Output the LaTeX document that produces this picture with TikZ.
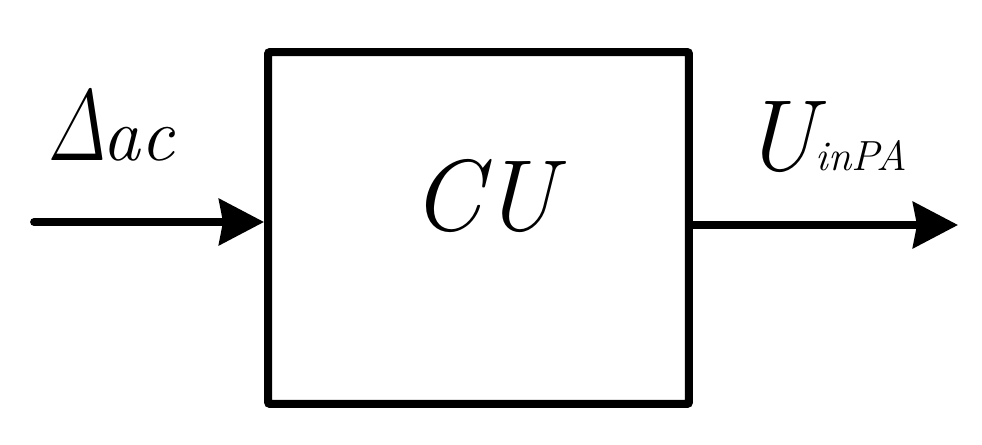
\documentclass[tikz,border=0pt]{standalone}
\usepackage{graphicx}
\usetikzlibrary{arrows.meta}
\newcommand{\narrowdelta}{\scalebox{0.76}[1]{Δ}}
\begin{document}
\begin{tikzpicture}[x=0.02cm, y=-0.02cm]
\tikzstyle{block}=[rectangle, draw=black, line width=0.16cm, rounded corners=0.04cm, minimum width=8.42cm, minimum height=7.04cm, inner sep=0pt]
\tikzstyle{signal}=[line width=0.155cm, line cap=round, -{Stealth[length=0.9cm, width=0.92cm, inset=0.08cm]}]
\tikzstyle{big}=[font=\fontsize{57.5}{58}\selectfont\itshape, inner sep=0pt]
\useasboundingbox (0,0) rectangle (982,445);

% Control unit
\node[big, anchor=base west] (cuname) at (411,231) {CU};
\node[block] (cu) at (478.5,228) {};

% Input signal
\coordinate (in) at (34,222);
\node[big, anchor=base west] (inname) at (46,161) {\narrowdelta\kern-0.05em{\fontsize{43}{44}\selectfont ac}};
\draw[signal] (in) -- (in -| cu.west);

% Output signal
\coordinate (out) at (958,225);
\node[big, anchor=base west] (outname) at (742,171) {U{\fontsize{24}{25}\selectfont inPA}};
\draw[signal, line cap=butt] (cu.east |- out) -- (out);
\end{tikzpicture}
\end{document}
